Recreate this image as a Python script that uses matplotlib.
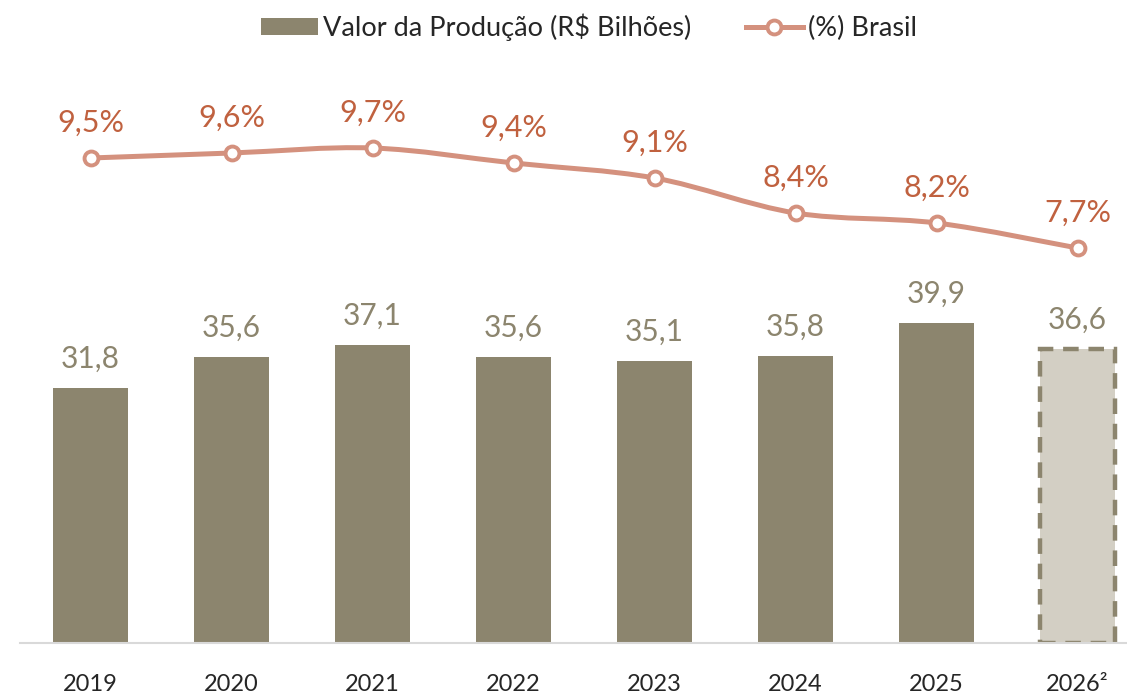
import matplotlib.pyplot as plt
from matplotlib.patches import Patch, PathPatch
from matplotlib.lines import Line2D
from matplotlib.path import Path

plt.rcParams['font.family'] = ['Lato', 'DejaVu Sans']

years = ['2019', '2020', '2021', '2022', '2023', '2024', '2025', '2026²']
valor = [31.8, 35.6, 37.1, 35.6, 35.1, 35.8, 39.9, 36.6]
pct = [9.5, 9.6, 9.7, 9.4, 9.1, 8.4, 8.2, 7.7]
projected = [False] * 7 + [True]

BAR = '#8C856E'
BAR_LIGHT = '#D3CFC4'
LINE = '#D4917E'
PCT_TXT = '#C0613F'
TXT = '#262626'

fig = plt.figure(figsize=(11.27, 6.94), dpi=100)
ax = fig.add_axes([20 / 1127, 51 / 694, 1107 / 1127, 643 / 694])
ax2 = ax.twinx()

x = list(range(len(years)))

# bars
for i, v in enumerate(valor):
    if projected[i]:
        ax.bar(i, v, width=0.53, color=BAR_LIGHT, edgecolor=BAR,
               linewidth=3.2, linestyle=(0, (3.5, 2.2)), zorder=2)
    else:
        ax.bar(i, v, width=0.53, color=BAR, zorder=2)
    ax.annotate(f'{v:.1f}'.replace('.', ','), (i, v), xytext=(0, 11),
                textcoords='offset points', ha='center', va='bottom',
                fontsize=21.5, color=BAR)

ax.set_xlim(-0.5, -0.5 + 1107 / 141)
ax.set_ylim(0, 643 / 8.02)
ax.set_xticks(x)
ax.set_xticklabels(years, fontsize=17, color=TXT)
ax.tick_params(axis='x', length=0, pad=22)
ax.set_yticks([])
for s in ['top', 'right', 'left']:
    ax.spines[s].set_visible(False)
ax.spines['bottom'].set_color('#D9D9D9')
ax.spines['bottom'].set_linewidth(1.5)

# smoothed line (Catmull-Rom through the data points)
pts = list(zip(x, pct))
verts = [pts[0]]
codes = [Path.MOVETO]
for k in range(len(pts) - 1):
    p0 = pts[k - 1] if k > 0 else pts[k]
    p1 = pts[k]
    p2 = pts[k + 1]
    p3 = pts[k + 2] if k + 2 < len(pts) else pts[k + 1]
    c1 = (p1[0] + (p2[0] - p0[0]) / 6, p1[1] + (p2[1] - p0[1]) / 6)
    c2 = (p2[0] - (p3[0] - p1[0]) / 6, p2[1] - (p3[1] - p1[1]) / 6)
    verts += [c1, c2, p2]
    codes += [Path.CURVE4] * 3
ax2.add_patch(PathPatch(Path(verts, codes), facecolor='none', edgecolor=LINE,
                        linewidth=3.6, capstyle='round', zorder=3))
ax2.plot(x, pct, linestyle='none', marker='o', markersize=10,
         markerfacecolor='white', markeredgecolor=LINE, markeredgewidth=2.8,
         zorder=4)
for i, v in enumerate(pct):
    ax2.annotate(f'{v:.1f}%'.replace('.', ','), (i, v), xytext=(0, 15),
                 textcoords='offset points', ha='center', va='bottom',
                 fontsize=22, color=PCT_TXT)

ax2.set_ylim(-0.2, 12.66)
ax2.set_yticks([])
for s in ['top', 'right', 'left', 'bottom']:
    ax2.spines[s].set_visible(False)

handles = [
    Patch(facecolor=BAR, edgecolor='none'),
    Line2D([0], [0], color=LINE, linewidth=3.6, marker='o', markersize=10,
           markerfacecolor='white', markeredgecolor=LINE, markeredgewidth=2.8),
]
fig.legend(handles, ['Valor da Produção (R$ Bilhões)', '(%) Brasil'],
           loc='center', bbox_to_anchor=(589 / 1127, 1 - 27 / 694), ncol=2,
           frameon=False, fontsize=19.5, labelcolor=TXT, handlelength=2.1,
           handletextpad=0.2, columnspacing=2.0, handleheight=0.6)

fig.savefig('out.png', dpi=100)
